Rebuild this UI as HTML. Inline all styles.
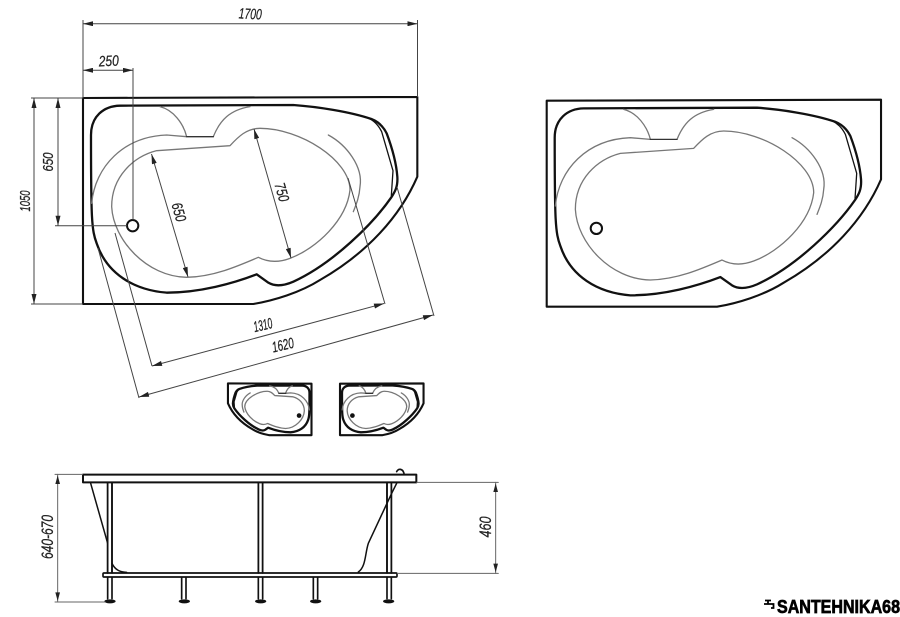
<!DOCTYPE html>
<html><head><meta charset="utf-8"><style>
html,body{margin:0;padding:0;background:#fff}
svg{display:block;filter:blur(.35px)}
text{font-family:"Liberation Sans",sans-serif;font-style:italic;fill:#222;stroke:#222;stroke-width:.25;font-size:15px;text-anchor:middle}
#tub path{vector-effect:non-scaling-stroke}
</style></head><body>
<svg width="900" height="617" viewBox="0 0 900 617" xmlns="http://www.w3.org/2000/svg">
<defs>
<marker id="a" viewBox="0 0 12 6" refX="12" refY="3" markerWidth="11" markerHeight="5" orient="auto-start-reverse" markerUnits="userSpaceOnUse"><path d="M0,0 L12,3 L0,6Z" fill="#222"/></marker>
<g id="tub" fill="none" stroke-linejoin="round" stroke-linecap="round">
<path d="M249,294 L1252,291 L1252,530 C1200,650 1100,760 960,840 C900,878 820,902 760,912 L249,912Z" stroke="#111" stroke-width="2.100" fill="#fff"/>
<path d="M273,405 C273,350 310,318 360,317 L880,315 C950,320 1050,335 1114,357 C1135,365 1150,380 1160,400 C1175,440 1189,490 1192,530 C1194,560 1185,575 1174,592 C1120,670 1000,790 880,845 C850,858 825,860 805,848 L770,823 C700,850 600,878 500,878 C400,870 320,820 290,730 C275,690 273,660 273,405Z" stroke="#111" stroke-width="2.300"/>
<path d="M1094,350 C1120,358 1135,375 1145,395 L1179,512 L1174,587" stroke="#111" stroke-width="1.300"/>
<path d="M275,610 C285,500 370,410 500,405 L560,410 M480,320 C520,330 550,370 560,410 M640,410 C660,360 690,330 750,320" stroke="#777" stroke-width="1.300"/>
<path d="M560,410 L640,410" stroke="#333" stroke-width="1.300"/>
<path d="M690,437 L470,452 C400,470 335,530 335,620 C340,720 440,830 560,832 C640,830 710,800 775,772 C800,785 830,790 870,775 C950,745 1040,660 1050,570 C1050,480 900,385 780,385 C740,385 715,410 690,437Z" stroke="#777" stroke-width="1.300"/>
<path d="M985,405 C1040,435 1090,500 1080,560 C1078,590 1070,610 1060,635" stroke="#777" stroke-width="1.300"/>
</g>
</defs>

<!-- main plan -->
<g transform="scale(.33333)">
<use href="#tub"/>
<circle cx="398" cy="677" r="17" fill="#fff" stroke="#111" stroke-width="6"/>
</g>
<g fill="none" stroke="#444" stroke-width="1">
<path d="M83,20V98M417.500,20V97M133,68V220M31,98H83M31,304H83M55,225.700H127"/>
<path d="M83,23.700H417.500" marker-start="url(#a)" marker-end="url(#a)"/>
<path d="M83,70.300H133" marker-start="url(#a)" marker-end="url(#a)"/>
<path d="M58,98V225.700" marker-start="url(#a)" marker-end="url(#a)"/>
<path d="M34,98V304" marker-start="url(#a)" marker-end="url(#a)"/>
<path d="M151.500,154 L188,277" marker-start="url(#a)" marker-end="url(#a)"/>
<path d="M254,129 L291,258" marker-start="url(#a)" marker-end="url(#a)"/>
<path d="M115,233L152,366M348,178L385,304M98,248L139,398M397,187L434,316"/>
<path d="M152,366L384,303.500" marker-start="url(#a)" marker-end="url(#a)"/>
<path d="M139,397L433,315" marker-start="url(#a)" marker-end="url(#a)"/>
</g>
<text transform="translate(250,19) rotate(3)" textLength="23" lengthAdjust="spacingAndGlyphs">1700</text>
<text transform="translate(109,66) rotate(-3)" textLength="20" lengthAdjust="spacingAndGlyphs">250</text>
<text transform="translate(53,162) rotate(-90)" textLength="19" lengthAdjust="spacingAndGlyphs">650</text>
<text transform="translate(30,201) rotate(-90)" textLength="21" lengthAdjust="spacingAndGlyphs">1050</text>
<text transform="translate(174,213.500) rotate(74)" textLength="19" lengthAdjust="spacingAndGlyphs">650</text>
<text transform="translate(277,193.500) rotate(74)" textLength="19" lengthAdjust="spacingAndGlyphs">750</text>
<text transform="translate(264,330) rotate(-13)" textLength="19" lengthAdjust="spacingAndGlyphs">1310</text>
<text transform="translate(284,350) rotate(-13)" textLength="22" lengthAdjust="spacingAndGlyphs">1620</text>

<!-- right plan -->
<g transform="translate(463.7,2.700) scale(.33333)">
<use href="#tub"/>
<circle cx="398" cy="677" r="17" fill="#fff" stroke="#111" stroke-width="6"/>
</g>

<!-- mini plans -->
<g transform="translate(311.500,383.500) scale(-.0833,.0833) translate(-249,-292)">
<use href="#tub"/>
<circle cx="398" cy="677" r="28" fill="#111"/>
</g>
<g transform="translate(340,383.500) scale(.0833,.0833) translate(-249,-292)">
<use href="#tub"/>
<circle cx="398" cy="677" r="28" fill="#111"/>
</g>

<!-- side view -->
<g transform="translate(30,460) scale(.33333)" fill="none" stroke="#111" stroke-linecap="round" stroke-linejoin="round">
<path d="M1100,35 C1105,25 1118,25 1122,40" stroke-width="5"/>
<rect x="159" y="44" width="1000" height="23" stroke-width="6" fill="#fff"/>
<path d="M182,70L233,250M1100,70L1085,100L1015,250C1005,280 1008,320 985,336M246,310C255,330 270,337 290,337" stroke-width="4.500"/>
<path d="M233,67V416M246,67V416M685,67V416M698,67V416M1071,67V416M1084,67V416M455,351V416M468,351V416M850,351V416M863,351V416" stroke-width="5"/>
<rect x="219" y="339" width="882" height="12" rx="3" stroke-width="5" fill="#fff"/>
<path d="M233,67V339M246,67V339M685,67V339M698,67V339M1071,67V339M1084,67V339" stroke-width="5"/>
<g fill="#111" stroke="none">
<ellipse cx="240" cy="424" rx="17" ry="6"/><ellipse cx="463" cy="424" rx="17" ry="6"/><ellipse cx="692" cy="424" rx="17" ry="6"/><ellipse cx="857" cy="424" rx="17" ry="6"/><ellipse cx="1076" cy="424" rx="17" ry="6"/>
</g>
<g stroke="#666" stroke-width="3">
<path d="M75,43H158M75,426H225M1160,67H1405M1102,340H1405"/>
<path d="M83,43V426M1397,67V340"/>
</g>
<path d="M83,46L76,72H90ZM83,423L76,397H90ZM1397,70L1390,96H1404ZM1397,337L1390,311H1404Z" fill="#222" stroke="none"/>
</g>
<text transform="translate(53,537) rotate(-90)" textLength="44" lengthAdjust="spacingAndGlyphs" style="font-size:17px">640-670</text>
<text transform="translate(491,527) rotate(-90)" textLength="21" lengthAdjust="spacingAndGlyphs" style="font-size:17px">460</text>

<!-- logo -->
<path d="M764,604H773.500V608H771M768,604V600.500M765,600.500H771" fill="none" stroke="#000" stroke-width="1.800"/>
<text x="777" y="613" textLength="123" lengthAdjust="spacingAndGlyphs" style="font-style:normal;font-weight:bold;font-size:18px;text-anchor:start;fill:#000;stroke:#000;stroke-width:.7">SANTEHNIKA68</text>
</svg>
</body></html>
